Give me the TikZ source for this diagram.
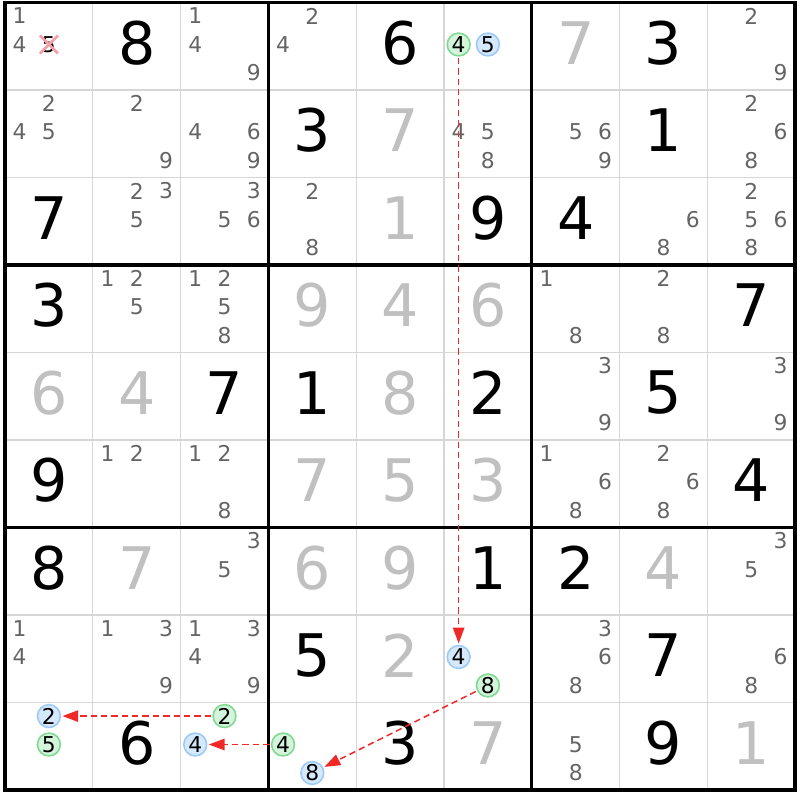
\documentclass[tikz,border=0pt]{standalone}
\usepackage{fontspec}
\setmainfont{DejaVu Sans}
\usepackage{tikz}
\usetikzlibrary{arrows.meta}
\definecolor{candgray}{HTML}{646464}
\definecolor{filledgray}{HTML}{C0C0C0}
\definecolor{gridgray}{HTML}{D6D6D6}
\definecolor{linkred}{HTML}{F02828}
\definecolor{onfill}{HTML}{D4F4DC}
\definecolor{ondraw}{HTML}{7FD990}
\definecolor{offfill}{HTML}{D5E8FC}
\definecolor{offdraw}{HTML}{9CCAF6}
\definecolor{strikepink}{HTML}{F4A0A6}
\tikzset{
    bigdigit/.style={font=\fontsize{33.4}{40}\selectfont, inner sep=0pt},
    given/.style={bigdigit, text=black},
    filled/.style={bigdigit, text=filledgray},
    cand/.style={font=\fontsize{12.4}{15}\selectfont, inner sep=0pt, text=candgray},
    struck/.style={cand, text=black},
    oncand/.style={cand, text=black, circle, draw=ondraw, fill=onfill,
        line width=0.9pt, minimum size=13pt, outer sep=1.2pt},
    offcand/.style={oncand, draw=offdraw, fill=offfill},
    gridline/.style={draw=gridgray, line width=0.7pt},
    boxline/.style={draw=black, line width=1.8pt},
    strike/.style={draw=strikepink, line width=1.5pt},
    link/.style={->, > = {Triangle[length=9pt, width=6.5pt]}, draw=linkred,
        line width=0.85pt, dash pattern=on 3.6pt off 2.3pt}
}
\newcommand{\SetDigit}[4]{%
  \node (d#2#3) [#1] at ({5+87.8*(#2+0.5)}, {2.5+87.5*(#3+0.46)}) {#4};
}
\newcommand{\Notes}[3]{%
  \foreach \n in {#3} {
    \node (n#1#2\n) [cand]
      at ({5+87.8*(#1+(mod(\n-1,3)+0.5)/3)}, {2.5+87.5*(#2+0.155+0.325*floor((\n-1)/3))}) {\n};
  }
}
\newcommand{\Marked}[5]{%
  \node (#1) [#2]
    at ({5+87.8*(#3+(mod(#5-1,3)+0.5)/3)}, {2.5+87.5*(#4+0.155+0.325*floor((#5-1)/3))}) {#5};
}

\begin{document}
\begin{tikzpicture}[x=0.02cm, y=-0.02cm]
    \useasboundingbox (0,0) rectangle (800,800);
    \foreach \i in {1,...,8} {
        \draw[gridline] ({5+87.8*\i},2.5) -- ({5+87.8*\i},790);
        \draw[gridline] (5,{2.5+87.5*\i}) -- (795.2,{2.5+87.5*\i});
    }
    \foreach \i in {3,6} {
        \draw[boxline] ({5+87.8*\i},2.5) -- ({5+87.8*\i},790);
        \draw[boxline] (5,{2.5+87.5*\i}) -- (795.2,{2.5+87.5*\i});
    }
    \draw[boxline, line width=2pt] (5,2.5) rectangle (795.2,790);

    \Notes{0}{0}{1,4}
    \Marked{x00}{struck}{0}{0}{5}
    \draw[strike] (x00.center) ++(-9,-9) -- ++(18,18) (x00.center) ++(-9,9) -- ++(18,-18);
    \SetDigit{given}{1}{0}{8}
    \Notes{2}{0}{1,4,9}
    \Notes{3}{0}{2,4}
    \SetDigit{given}{4}{0}{6}
    \Marked{on05}{oncand}{5}{0}{4}
    \Marked{off05}{offcand}{5}{0}{5}
    \SetDigit{filled}{6}{0}{7}
    \SetDigit{given}{7}{0}{3}
    \Notes{8}{0}{2,9}

    \Notes{0}{1}{2,4,5}
    \Notes{1}{1}{2,9}
    \Notes{2}{1}{4,6,9}
    \SetDigit{given}{3}{1}{3}
    \SetDigit{filled}{4}{1}{7}
    \Notes{5}{1}{4,5,8}
    \Notes{6}{1}{5,6,9}
    \SetDigit{given}{7}{1}{1}
    \Notes{8}{1}{2,6,8}

    \SetDigit{given}{0}{2}{7}
    \Notes{1}{2}{2,3,5}
    \Notes{2}{2}{3,5,6}
    \Notes{3}{2}{2,8}
    \SetDigit{filled}{4}{2}{1}
    \SetDigit{given}{5}{2}{9}
    \SetDigit{given}{6}{2}{4}
    \Notes{7}{2}{6,8}
    \Notes{8}{2}{2,5,6,8}

    \SetDigit{given}{0}{3}{3}
    \Notes{1}{3}{1,2,5}
    \Notes{2}{3}{1,2,5,8}
    \SetDigit{filled}{3}{3}{9}
    \SetDigit{filled}{4}{3}{4}
    \SetDigit{filled}{5}{3}{6}
    \Notes{6}{3}{1,8}
    \Notes{7}{3}{2,8}
    \SetDigit{given}{8}{3}{7}

    \SetDigit{filled}{0}{4}{6}
    \SetDigit{filled}{1}{4}{4}
    \SetDigit{given}{2}{4}{7}
    \SetDigit{given}{3}{4}{1}
    \SetDigit{filled}{4}{4}{8}
    \SetDigit{given}{5}{4}{2}
    \Notes{6}{4}{3,9}
    \SetDigit{given}{7}{4}{5}
    \Notes{8}{4}{3,9}

    \SetDigit{given}{0}{5}{9}
    \Notes{1}{5}{1,2}
    \Notes{2}{5}{1,2,8}
    \SetDigit{filled}{3}{5}{7}
    \SetDigit{filled}{4}{5}{5}
    \SetDigit{filled}{5}{5}{3}
    \Notes{6}{5}{1,6,8}
    \Notes{7}{5}{2,6,8}
    \SetDigit{given}{8}{5}{4}

    \SetDigit{given}{0}{6}{8}
    \SetDigit{filled}{1}{6}{7}
    \Notes{2}{6}{3,5}
    \SetDigit{filled}{3}{6}{6}
    \SetDigit{filled}{4}{6}{9}
    \SetDigit{given}{5}{6}{1}
    \SetDigit{given}{6}{6}{2}
    \SetDigit{filled}{7}{6}{4}
    \Notes{8}{6}{3,5}

    \Notes{0}{7}{1,4}
    \Notes{1}{7}{1,3,9}
    \Notes{2}{7}{1,3,4,9}
    \SetDigit{given}{3}{7}{5}
    \SetDigit{filled}{4}{7}{2}
    \Marked{off75}{offcand}{5}{7}{4}
    \Marked{on75}{oncand}{5}{7}{8}
    \Notes{6}{7}{3,6,8}
    \SetDigit{given}{7}{7}{7}
    \Notes{8}{7}{6,8}

    \Marked{off80}{offcand}{0}{8}{2}
    \Marked{on80}{oncand}{0}{8}{5}
    \SetDigit{given}{1}{8}{6}
    \Marked{on82}{oncand}{2}{8}{2}
    \Marked{off82}{offcand}{2}{8}{4}
    \Marked{on83}{oncand}{3}{8}{4}
    \Marked{off83}{offcand}{3}{8}{8}
    \SetDigit{given}{4}{8}{3}
    \SetDigit{filled}{5}{8}{7}
    \Notes{6}{8}{5,8}
    \SetDigit{given}{7}{8}{9}
    \SetDigit{filled}{8}{8}{1}

    \draw[link] (on05) -- (off75);
    \draw[link] (on75) -- (off83);
    \draw[link] (on83) -- (off82);
    \draw[link] (on82) -- (off80);
\end{tikzpicture}
\end{document}
